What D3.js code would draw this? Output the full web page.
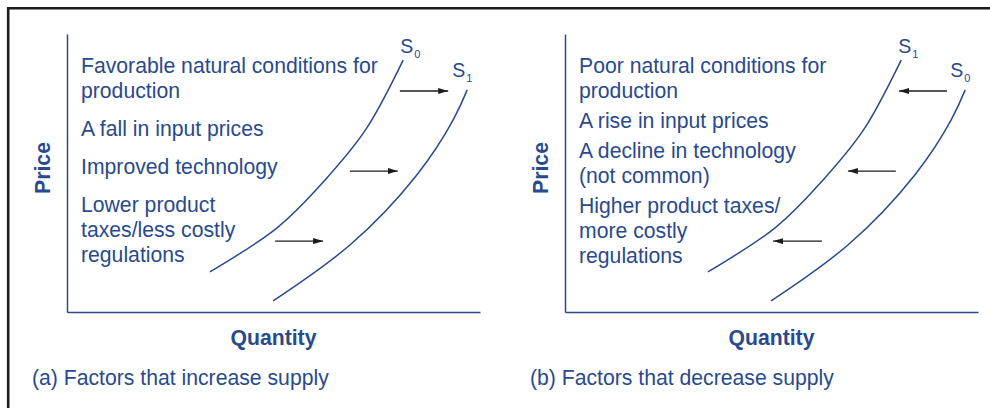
<!DOCTYPE html>
<html>
<head>
<meta charset="utf-8">
<script src="https://cdn.jsdelivr.net/npm/d3@7"></script>
<style>
  html, body { margin: 0; padding: 0; background: #fff; }
  svg { display: block; font-family: "Liberation Sans", Arial, Helvetica, sans-serif; }
</style>
</head>
<body>
<div id="vis"></div>
<script>
// supply curves, in [quantity, price] units (0-100 on both axes)
const innerCurve = [
  [34.6, 14.4], [50.8, 30.2], [62.5, 47.5], [72.6, 66.2], [81.4, 90.6]
];
const outerCurve = [
  [49.9, 4.0], [68.5, 24.1], [84.7, 49.3], [93.5, 69.1], [96.9, 79.9]
];

// shift arrows: [from quantity, to quantity, price]
const increaseArrows = [[80.6, 92.3, 79.5], [68.5, 80.1, 50.7], [50.4, 62.0, 25.5]];
const decreaseArrows = [[92.5, 80.9, 79.5], [80.1, 68.5, 50.7], [62.2, 50.4, 25.5]];

const increaseFactors = [
  ['Favorable natural conditions for', 'production'],
  ['A fall in input prices'],
  ['Improved technology'],
  ['Lower product', 'taxes/less costly', 'regulations'],
];
const decreaseFactors = [
  ['Poor natural conditions for', 'production'],
  ['A rise in input prices'],
  ['A decline in technology', '(not common)'],
  ['Higher product taxes/', 'more costly', 'regulations'],
];

const captions = ['(a) Factors that increase supply', '(b) Factors that decrease supply'];
const curveLabels = [['0', '1'], ['1', '0']];   // subscripts for inner / outer curve
const axisTitles = ['Quantity', 'Price'];

const blue = '#294a8c';
const width = 990, height = 408;
const fontSize = 21.2;

const svg = d3.select('#vis').append('svg')
    .attr('width', width)
    .attr('height', height);

// frame
svg.append('path')
    .attr('d', `M8.2,${height}V8.2H${width}`)
    .attr('fill', 'none')
    .attr('stroke', '#1c1c1c')
    .attr('stroke-width', 2.6);

svg.append('defs').append('marker')
    .attr('id', 'head')
    .attr('markerUnits', 'userSpaceOnUse')
    .attr('viewBox', '0 0 10 6')
    .attr('markerWidth', 10)
    .attr('markerHeight', 6)
    .attr('refX', 10)
    .attr('refY', 3)
    .attr('orient', 'auto')
  .append('path')
    .attr('d', 'M0,0L10,3L0,6Z')
    .attr('fill', '#1c1c1c');

const plotW = 413, plotH = 278;

const x = d3.scaleLinear().domain([0, 100]).range([0, plotW]);
const y = d3.scaleLinear().domain([0, 100]).range([plotH, 0]);

const line = d3.line()
    .x(d => x(d[0]))
    .y(d => y(d[1]))
    .curve(d3.curveNatural);

drawPanel(67, increaseFactors, 38, increaseArrows, curveLabels[0], captions[0]);
drawPanel(565, decreaseFactors, 30, decreaseArrows, curveLabels[1], captions[1]);


function drawPanel(left, factors, groupGap, arrows, subs, caption) {
  const g = svg.append('g')
      .attr('transform', `translate(${left},34)`);

  g.append('g')
      .attr('transform', `translate(0,${plotH})`)
      .call(d3.axisBottom(x).tickValues([]).tickSizeOuter(0));
  g.append('g')
      .call(d3.axisLeft(y).tickValues([]).tickSizeOuter(0));
  g.selectAll('.domain')
      .attr('stroke', blue)
      .attr('stroke-width', 1.5);

  // factor list
  let baseline = 39;
  const rows = [];
  factors.forEach((grp, i) => {
    if (i > 0) baseline += groupGap;
    grp.forEach((t, j) => {
      if (j > 0) baseline += 25;
      rows.push({t, baseline});
    });
  });

  g.selectAll('.factor')
    .data(rows)
    .join('text')
      .attr('class', 'factor')
      .attr('x', 14)
      .attr('y', d => d.baseline)
      .attr('fill', blue)
      .attr('font-size', fontSize)
      .text(d => d.t);

  // curves
  const curves = [innerCurve, outerCurve];
  g.selectAll('.curve')
    .data(curves)
    .join('path')
      .attr('class', 'curve')
      .attr('d', line)
      .attr('fill', 'none')
      .attr('stroke', blue)
      .attr('stroke-width', 1.5);

  const labelOffset = [[-3, -7], [-15, -13]];
  const labels = g.selectAll('.curve-label')
    .data(curves)
    .join('text')
      .attr('class', 'curve-label')
      .attr('x', (d, i) => x(d[d.length - 1][0]) + labelOffset[i][0])
      .attr('y', (d, i) => y(d[d.length - 1][1]) + labelOffset[i][1])
      .attr('fill', blue)
      .attr('font-size', 19.5);
  labels.append('tspan').text('S');
  labels.append('tspan')
      .attr('dx', 1)
      .attr('dy', 5)
      .attr('font-size', 11)
      .text((d, i) => subs[i]);

  // shift arrows
  g.selectAll('.arrow')
    .data(arrows)
    .join('line')
      .attr('class', 'arrow')
      .attr('x1', d => x(d[0]))
      .attr('x2', d => x(d[1]))
      .attr('y1', d => y(d[2]))
      .attr('y2', d => y(d[2]))
      .attr('stroke', '#1c1c1c')
      .attr('stroke-width', 1.3)
      .attr('marker-end', 'url(#head)');

  // axis titles
  g.append('text')
      .attr('x', plotW / 2)
      .attr('y', plotH + 33)
      .attr('text-anchor', 'middle')
      .attr('font-weight', 'bold')
      .attr('font-size', fontSize)
      .attr('fill', blue)
      .text(axisTitles[0]);

  g.append('text')
      .attr('transform', `translate(-17,${plotH / 2 - 5}) rotate(-90)`)
      .attr('text-anchor', 'middle')
      .attr('font-weight', 'bold')
      .attr('font-size', fontSize)
      .attr('fill', blue)
      .text(axisTitles[1]);

  g.append('text')
      .attr('x', -35)
      .attr('y', plotH + 73)
      .attr('font-size', fontSize)
      .attr('fill', blue)
      .text(caption);
}
</script>
</body>
</html>
